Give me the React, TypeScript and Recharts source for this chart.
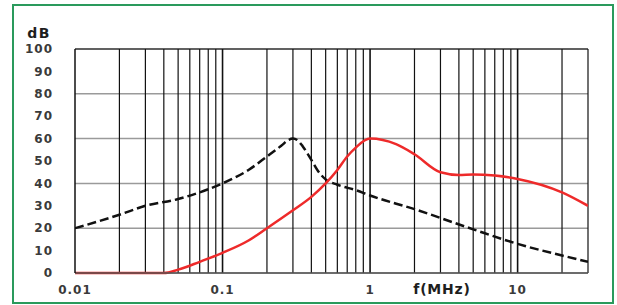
import React from 'react'
import {
  LineChart, Line, XAxis, YAxis, CartesianGrid, ReferenceLine,
} from 'recharts'

// black dashed curve
const dashFreq = [0.01, 0.02, 0.03, 0.05, 0.07, 0.1, 0.15, 0.2, 0.25, 0.28, 0.3, 0.32, 0.35, 0.4, 0.45, 0.5, 0.6, 0.8, 1, 2, 5, 10, 20, 30]
const dashDb   = [20, 26, 30, 33, 36, 40, 46, 52, 56.8, 59.4, 60, 59.4, 56.5, 50.5, 45, 41.8, 39.4, 37, 34.6, 28.5, 19.5, 13, 7.8, 5]

// red solid curve
const redFreq = [0.01, 0.02, 0.04, 0.05, 0.07, 0.1, 0.15, 0.2, 0.3, 0.4, 0.5, 0.6, 0.7, 0.8, 1, 1.5, 2, 3, 4, 5, 7, 10, 20, 30]
const redDb   = [0, 0, 0, 1.5, 5, 9, 14.5, 20, 28, 34, 40, 46, 52, 56, 60, 57.5, 53, 45, 43.8, 44, 43.5, 42, 36, 30]

const xTicks = [0.01, 0.1, 1, 10]
const xTickLabels = ['0.01', '0.1', '1', '10']
const yTicks = [0, 10, 20, 30, 40, 50, 60, 70, 80, 90, 100]
const gridFreq = [
  0.02, 0.03, 0.04, 0.05, 0.06, 0.07, 0.08, 0.09, 0.1,
  0.2, 0.3, 0.4, 0.5, 0.6, 0.7, 0.8, 0.9, 1,
  2, 3, 4, 5, 6, 7, 8, 9, 10,
  20, 30,
]

const dashData = dashFreq.map((f, i) => ({ f, db: dashDb[i] }))
const redData = redFreq.map((f, i) => ({ f, db: redDb[i] }))

const tickStyle = {
  fontFamily: 'DejaVu Sans, Verdana, sans-serif',
  fontSize: 12,
  fontWeight: 600,
  fill: '#3a3a3a',
  letterSpacing: 1,
}

const titleStyle: React.CSSProperties = {
  position: 'absolute',
  fontFamily: 'DejaVu Sans, Verdana, sans-serif',
  fontWeight: 'bold',
  color: '#1e1e1e',
  lineHeight: 1,
  transform: 'translate(-50%, -50%)',
  whiteSpace: 'nowrap',
}

export default function App() {
  return (
    <div style={{ position: 'absolute', left: 0, top: 0, width: 617, height: 305, background: '#fff' }}>
      <div
        style={{
          position: 'absolute', left: 12, top: 4, width: 598, height: 296,
          border: '2.5px solid #2a9a5c',
        }}
      />
      <LineChart
        width={617}
        height={305}
        margin={{ top: 49, right: 29, bottom: 2, left: 0 }}
        style={{ position: 'absolute', left: 0, top: 0 }}
      >
        <CartesianGrid vertical={false} stroke="#9a9a9a" strokeWidth={1.5} />
        {gridFreq.map((g) => (
          <ReferenceLine key={g} x={g} stroke="#111" strokeWidth={g === 0.1 || g === 1 || g === 10 ? 1.6 : 1.2} />
        ))}
        <ReferenceLine y={100} stroke="#111" strokeWidth={1.2} />
        <XAxis
          dataKey="f"
          type="number"
          scale="log"
          domain={[0.01, 30]}
          allowDataOverflow
          ticks={xTicks}
          tickFormatter={(v: number) => xTickLabels[xTicks.indexOf(v)] ?? String(v)}
          tick={tickStyle}
          tickLine={false}
          tickMargin={6}
          axisLine={{ stroke: '#555', strokeWidth: 1.5 }}
          height={30}
        />
        <YAxis
          type="number"
          domain={[0, 100]}
          ticks={yTicks}
          tick={tickStyle}
          tickLine={false}
          tickMargin={16}
          axisLine={{ stroke: '#111', strokeWidth: 1.5 }}
          width={75}
        />
        <Line
          data={dashData}
          dataKey="db"
          type="monotone"
          stroke="#111"
          strokeWidth={2.5}
          strokeDasharray="9 4"
          dot={false}
          isAnimationActive={false}
        />
        <Line
          data={redData}
          dataKey="db"
          type="monotone"
          stroke="#ee2a2a"
          strokeWidth={2.5}
          dot={false}
          isAnimationActive={false}
        />
      </LineChart>
      <div style={{ ...titleStyle, left: 39, top: 33, fontSize: 14, letterSpacing: 1.5 }}>dB</div>
      <div style={{ ...titleStyle, left: 442, top: 289, fontSize: 14, letterSpacing: 0.8 }}>f(MHz)</div>
    </div>
  )
}
